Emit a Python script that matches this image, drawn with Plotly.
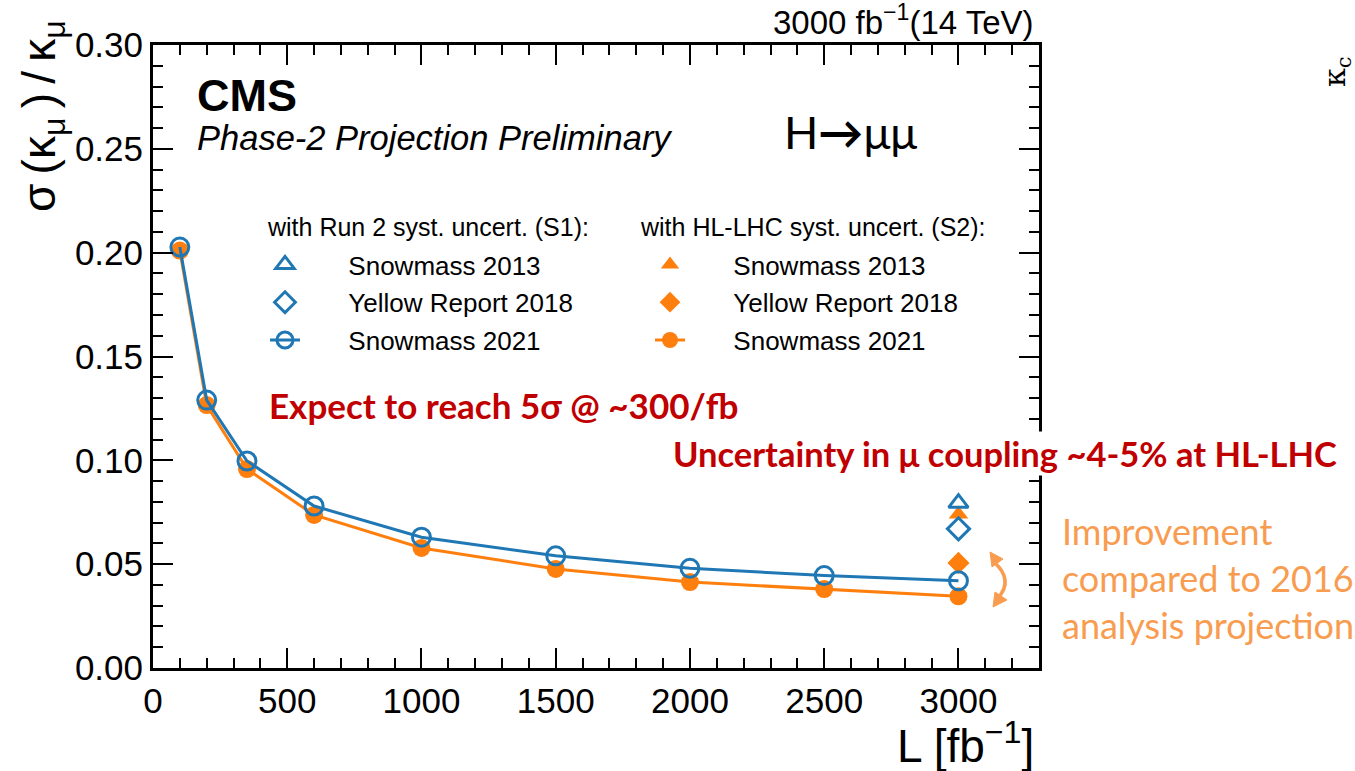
import plotly.graph_objects as go

# ---- data ----
lumi = [100, 200, 350, 600, 1000, 1500, 2000, 2500, 3000]
s1_snowmass2021 = [0.2027, 0.129, 0.0997, 0.078, 0.063, 0.054, 0.048, 0.0445, 0.042]
s2_snowmass2021 = [0.201, 0.1266, 0.0958, 0.0737, 0.0578, 0.0477, 0.0414, 0.038, 0.0345]
lumi_old = [3000]
s1_snowmass2013 = [0.0794]
s2_snowmass2013 = [0.074]
s1_yr2018 = [0.067]
s2_yr2018 = [0.0506]

x_ticks = [0, 500, 1000, 1500, 2000, 2500, 3000]
y_ticks = [0.00, 0.05, 0.10, 0.15, 0.20, 0.25, 0.30]

BLUE = "#1f77b4"
ORANGE = "#ff7f0e"
RED = "#C00000"
LORANGE = "#F89C50"
SANS = "Liberation Sans, Arial, sans-serif"
CAL = "Lato, Open Sans, sans-serif"
PAD = "\u00a0" * 6

fig = go.Figure()

# S2 (orange) first so blue is drawn on top
fig.add_trace(go.Scatter(x=lumi_old, y=s2_snowmass2013, mode="markers", name=PAD + "Snowmass 2013",
                         marker=dict(symbol="triangle-up", size=17, color=ORANGE),
                         legend="legend2", legendgroup="o1"))
fig.add_trace(go.Scatter(x=lumi_old, y=s2_yr2018, mode="markers", name=PAD + "Yellow Report 2018",
                         marker=dict(symbol="diamond", size=17, color=ORANGE),
                         legend="legend2", legendgroup="o2"))
fig.add_trace(go.Scatter(x=lumi, y=s2_snowmass2021, mode="lines+markers", name=PAD + "Snowmass 2021",
                         line=dict(color=ORANGE, width=3),
                         marker=dict(symbol="circle", size=18, color=ORANGE),
                         legend="legend2", legendgroup="o3"))

fig.add_trace(go.Scatter(x=lumi_old, y=s1_snowmass2013, mode="markers", name=PAD + "Snowmass 2013",
                         marker=dict(symbol="triangle-up-open", size=17, color=BLUE, line=dict(width=3)),
                         legend="legend", legendgroup="b1"))
fig.add_trace(go.Scatter(x=lumi_old, y=s1_yr2018, mode="markers", name=PAD + "Yellow Report 2018",
                         marker=dict(symbol="diamond-open", size=17, color=BLUE, line=dict(width=3)),
                         legend="legend", legendgroup="b2"))
fig.add_trace(go.Scatter(x=lumi, y=s1_snowmass2021, mode="lines+markers", name=PAD + "Snowmass 2021",
                         line=dict(color=BLUE, width=3),
                         marker=dict(symbol="circle-open", size=18, color=BLUE, line=dict(width=3)),
                         legend="legend", legendgroup="b3"))

L, R, T, B = 153, 1039, 45, 668
W, H = R - L, B - T


def px(x):
    return (x - L) / W


def py(y):
    return (B - y) / H


axis_common = dict(
    showline=True, linecolor="black", linewidth=3, mirror="ticks",
    ticks="inside", ticklen=20, tickwidth=2, tickcolor="black",
    showgrid=False, zeroline=False,
    tickfont=dict(family=SANS, size=35, color="black"),
)

legend_common = dict(xanchor="left", yanchor="top", bgcolor="rgba(0,0,0,0)", borderwidth=0,
                     font=dict(family=SANS, size=26, color="black"), tracegroupgap=1)

fig.update_layout(
    width=1355, height=771,
    margin=dict(l=L, r=1355 - R, t=T, b=771 - B),
    paper_bgcolor="white", plot_bgcolor="white",
    xaxis=dict(range=[0, 3300], tickvals=x_ticks, ticktext=[str(v) for v in x_ticks],
               minor=dict(dtick=100, tick0=0, ticks="inside", ticklen=10, tickwidth=2, tickcolor="black"),
               **axis_common),
    yaxis=dict(range=[0, 0.30], tickvals=y_ticks, ticktext=[f"{v:.2f}" for v in y_ticks],
               minor=dict(dtick=0.01, tick0=0, ticks="inside", ticklen=10, tickwidth=2, tickcolor="black"),
               **axis_common),
    legend=dict(x=px(265), y=py(241), **legend_common),
    legend2=dict(x=px(650), y=py(241), **legend_common),
    showlegend=True,
)

ann = []
ann.append(dict(text="with Run 2 syst. uncert. (S1):", x=px(265), y=py(227), xanchor="left", yanchor="middle",
                font=dict(family=SANS, size=25, color="black")))
ann.append(dict(text="with HL-LHC syst. uncert. (S2):", x=px(638), y=py(227), xanchor="left", yanchor="middle",
                font=dict(family=SANS, size=25, color="black")))
ann.append(dict(text="3000 fb<sup>−1</sup>(14 TeV)", x=px(1036), y=py(20), xanchor="right", yanchor="middle",
                font=dict(family=SANS, size=33, color="black")))
ann.append(dict(text="<b>CMS</b>", x=px(195), y=py(96), xanchor="left", yanchor="middle",
                font=dict(family=SANS, size=45, color="black")))
ann.append(dict(text="<i>Phase-2 Projection Preliminary</i>", x=px(195), y=py(138), xanchor="left",
                yanchor="middle", font=dict(family=SANS, size=34.5, color="black")))
ann.append(dict(text="H<b>→</b>μμ", x=px(782), y=py(132), xanchor="left", yanchor="middle",
                font=dict(family=CAL, size=45, color="black")))
ann.append(dict(text="σ\u2009(κ<sub>μ</sub>\u2009)\u2009/\u2009κ<sub>μ</sub>", x=px(42), y=py(18),
                xanchor="center", yanchor="top",
                textangle=-90, font=dict(family=SANS, size=46, color="black")))
ann.append(dict(text="L [fb<sup>−1</sup>]", x=px(1036), y=py(743), xanchor="right", yanchor="middle",
                font=dict(family=SANS, size=46, color="black")))
ann.append(dict(text="<b>Expect to reach 5σ @ ~300/fb</b>", x=px(504), y=py(405), xanchor="center",
                yanchor="middle", font=dict(family=CAL, size=35, color=RED)))
ann.append(dict(text="<b>Uncertainty in μ coupling ~4-5% at HL-LHC</b>", x=px(1005), y=py(453),
                xanchor="center", yanchor="middle", bgcolor="white",
                font=dict(family=CAL, size=34.5, color=RED)))
ann.append(dict(text="Improvement<br>compared to 2016<br>analysis projection", x=px(1060), y=py(578),
                xanchor="left", yanchor="middle", align="left",
                font=dict(family=CAL, size=36, color=LORANGE)))
ann.append(dict(text="κ<sub>c</sub>", x=px(1336), y=py(72), xanchor="center", yanchor="middle",
                textangle=-90, font=dict(family="DejaVu Serif, serif", size=30, color="black")))
for a in ann:
    a.update(xref="paper", yref="paper", showarrow=False)
fig.update_layout(annotations=ann)


# curved double arrow
def P(x, y):
    return f"{px(x):.5f},{py(y):.5f}"


shapes = [
    dict(type="path", xref="paper", yref="paper",
         path=f"M {P(994,562)} Q {P(1014,580)} {P(998,598)}",
         line=dict(color=LORANGE, width=3.5)),
    dict(type="path", xref="paper", yref="paper",
         path=f"M {P(990,552)} L {P(1003,559)} L {P(992,567)} Z",
         fillcolor=LORANGE, line=dict(color=LORANGE, width=1)),
    dict(type="path", xref="paper", yref="paper",
         path=f"M {P(993,607)} L {P(1007,600)} L {P(995,592)} Z",
         fillcolor=LORANGE, line=dict(color=LORANGE, width=1)),
]
fig.update_layout(shapes=shapes)

fig.write_html("out.html")
